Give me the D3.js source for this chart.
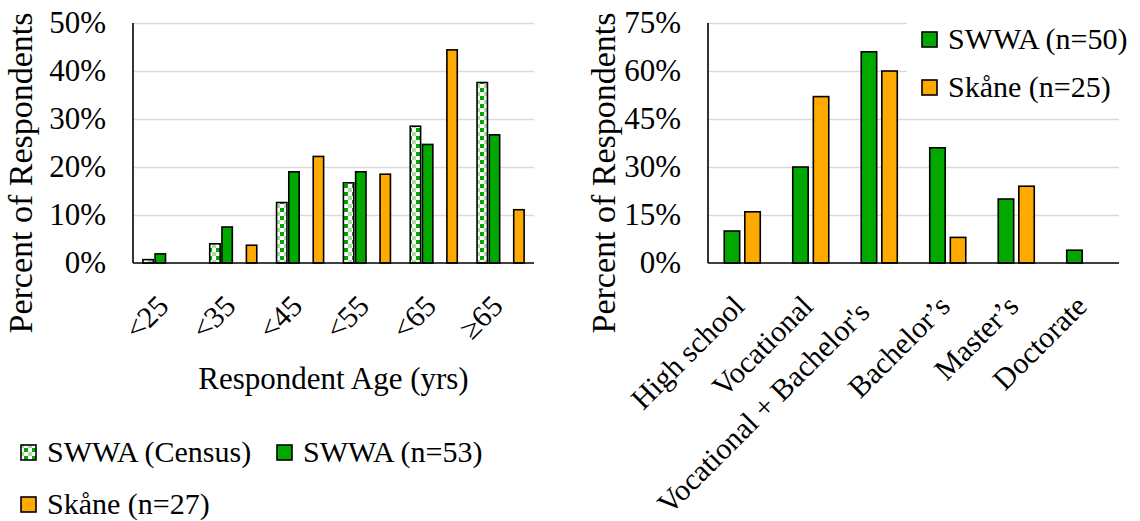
<!DOCTYPE html>
<html>
<head>
<meta charset="utf-8">
<script src="https://cdn.jsdelivr.net/npm/d3@7"></script>
<style>
  html, body { margin: 0; padding: 0; background: #fff; }
  svg { display: block; font-family: "Liberation Serif", "Times New Roman", serif; }
</style>
</head>
<body>
<svg id="chart" width="1140" height="521"></svg>
<script>
// ---- Respondent age (percent of respondents) ----
const ageGroups      = ["<25", "<35", "<45", "<55", "<65", "≥65"];
const swwaCensusAge  = [0.7, 4.0, 12.6, 16.7, 28.5, 37.6];
const swwaSurveyAge  = [1.9, 7.5, 19.0, 19.0, 24.7, 26.7];
const skaneSurveyAge = [0.0, 3.7, 22.2, 18.5, 44.4, 11.1];
const ageTicks       = [0, 10, 20, 30, 40, 50];

// ---- Highest education (percent of respondents) ----
const eduLevels      = ["High school", "Vocational", "Vocational + Bachelor's", "Bachelor’s", "Master’s", "Doctorate"];
const swwaSurveyEdu  = [10, 30, 66, 36, 20, 4];
const skaneSurveyEdu = [16, 52, 60, 8, 24, 0];
const eduTicks       = [0, 15, 30, 45, 60, 75];

const GREEN = "#00a800", ORANGE = "#ffaa00", LIGHT = "#a8dca0", GRID = "#d9d9d9";
const FONT = 30;

const svg = d3.select("#chart");
svg.append("rect").attr("width", 1140).attr("height", 521).attr("fill", "#fff");

// checkerboard fill for census bars
const pat = svg.append("defs").append("pattern")
  .attr("id", "checker").attr("patternUnits", "userSpaceOnUse")
  .attr("width", 8).attr("height", 8);
pat.append("rect").attr("width", 8).attr("height", 8).attr("fill", "#fff");
pat.append("rect").attr("x", 0).attr("y", 0).attr("width", 4).attr("height", 4).attr("fill", GREEN);
pat.append("rect").attr("x", 4).attr("y", 4).attr("width", 4).attr("height", 4).attr("fill", LIGHT);

function yAxisWithGrid(g, y, ticks, x0, x1) {
  const axis = d3.axisLeft(y).tickValues(ticks).tickSize(-(x1 - x0)).tickPadding(27)
    .tickFormat(d => d + "%");
  g.attr("transform", `translate(${x0},0)`).call(axis);
  g.select(".domain").remove();
  g.selectAll(".tick line").attr("stroke", GRID).attr("stroke-width", 1.6)
    .filter(d => d === 0).remove();
  g.selectAll(".tick text").attr("font-size", 31).attr("fill", "#000")
    .attr("font-family", "Liberation Serif, Times New Roman, serif");
}

function frame(x0, x1, yTop, yBase) {
  svg.append("line").attr("x1", x0).attr("x2", x0).attr("y1", yTop).attr("y2", yBase)
    .attr("stroke", "#000").attr("stroke-width", 1.6);
  svg.append("line").attr("x1", x0).attr("x2", x1).attr("y1", yBase).attr("y2", yBase)
    .attr("stroke", "#000").attr("stroke-width", 1.6);
}

function yTitle(x, yMid) {
  svg.append("text").attr("transform", `translate(${x},${yMid}) rotate(-90)`)
    .attr("text-anchor", "middle").attr("font-size", 34).text("Percent of Respondents");
}

function xLabels(x0, labels, y, dx, shift) {
  svg.append("g").selectAll("text").data(labels).join("text")
    .attr("transform", d => {
      const s = (shift && shift[d]) || [0, 0];
      return `translate(${x0(d) + x0.bandwidth() / 2 + dx + s[0]},${y + s[1]}) rotate(-45)`;
    })
    .attr("text-anchor", "end").attr("font-size", FONT).text(d => d);
}

function legendItem(x, y, fill, label) {
  svg.append("rect").attr("x", x).attr("y", y).attr("width", 15).attr("height", 15)
    .attr("fill", fill).attr("stroke", "#000").attr("stroke-width", 1.6);
  svg.append("text").attr("x", x + 26).attr("y", y + 17).attr("font-size", FONT).text(label);
}

// ================= Left: age =================
{
  const L = 133, R = 534, T = 23, B = 263;
  const x0 = d3.scaleBand().domain(ageGroups).range([L, R]).paddingInner(0.296).paddingOuter(0.148);
  const x1 = d3.scaleBand().domain(["census", "swwa", "skaneCensus", "skane"])
    .range([0, x0.bandwidth()]).paddingInner(0.15);
  const y = d3.scaleLinear().domain([0, 50]).range([B, T]);

  yAxisWithGrid(svg.append("g"), y, ageTicks, L, R);

  const series = [
    { key: "census", values: swwaCensusAge,  fill: "url(#checker)" },
    { key: "swwa",   values: swwaSurveyAge,  fill: GREEN },
    { key: "skane",  values: skaneSurveyAge, fill: ORANGE }
  ];
  series.forEach(s => {
    svg.append("g").selectAll("rect")
      .data(ageGroups.map((c, i) => ({ c, v: s.values[i] })).filter(d => d.v > 0))
      .join("rect")
      .attr("x", d => x0(d.c) + x1(s.key))
      .attr("y", d => y(d.v))
      .attr("width", x1.bandwidth())
      .attr("height", d => B - y(d.v))
      .attr("fill", s.fill).attr("stroke", "#000").attr("stroke-width", 1.6);
  });

  frame(L, R, T, B);
  yTitle(32, 173);
  xLabels(x0, ageGroups, 308, 4);
  svg.append("text").attr("x", (L + R) / 2).attr("y", 389).attr("text-anchor", "middle")
    .attr("font-size", 31).text("Respondent Age (yrs)");

  legendItem(21, 445, "url(#checker)", "SWWA (Census)");
  legendItem(277, 445, GREEN, "SWWA (n=53)");
  legendItem(21, 497, ORANGE, "Skåne (n=27)");
}

// ================= Right: education =================
{
  const L = 708, R = 1119, T = 23, B = 263;
  const x0 = d3.scaleBand().domain(eduLevels).range([L, R]).paddingInner(0.474).paddingOuter(0.237);
  const x1 = d3.scaleBand().domain(["swwa", "skane"]).range([0, x0.bandwidth()]).paddingInner(0.25);
  const y = d3.scaleLinear().domain([0, 75]).range([B, T]);

  yAxisWithGrid(svg.append("g"), y, eduTicks, L, R);

  // legend panel sits over the upper gridlines
  svg.append("rect").attr("x", 907).attr("y", 0).attr("width", 233).attr("height", 108).attr("fill", "#fff");

  const series = [
    { key: "swwa",  values: swwaSurveyEdu,  fill: GREEN },
    { key: "skane", values: skaneSurveyEdu, fill: ORANGE }
  ];
  series.forEach(s => {
    svg.append("g").selectAll("rect")
      .data(eduLevels.map((c, i) => ({ c, v: s.values[i] })).filter(d => d.v > 0))
      .join("rect")
      .attr("x", d => x0(d.c) + x1(s.key))
      .attr("y", d => y(d.v))
      .attr("width", x1.bandwidth())
      .attr("height", d => B - y(d.v))
      .attr("fill", s.fill).attr("stroke", "#000").attr("stroke-width", 1.6);
  });

  frame(L, R, T, B);
  yTitle(615, 173);
  // the long label is nudged down-left, away from its neighbours
  xLabels(x0, eduLevels, 308, 4, { "Vocational + Bachelor's": [-12, 6] });

  legendItem(922, 32, GREEN, "SWWA (n=50)");
  legendItem(922, 80, ORANGE, "Skåne (n=25)");
}
</script>
</body>
</html>
